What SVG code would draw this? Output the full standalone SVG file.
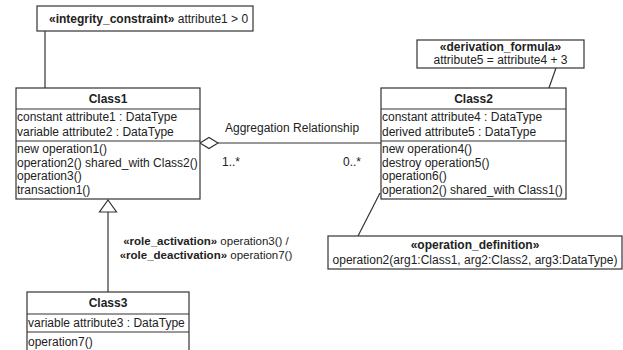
<svg xmlns="http://www.w3.org/2000/svg" width="623" height="350" viewBox="0 0 623 350">
<style>
  .box{fill:#fff;stroke:#333;stroke-width:1.2}
  .ln{fill:none;stroke:#333;stroke-width:1.2}
  text{font-family:"Liberation Sans",Arial,sans-serif;font-size:12px;fill:#222}
  .b{font-weight:bold}
  .c{text-anchor:middle}
  .r{font-size:11.5px}
</style>
<rect width="623" height="350" fill="#fff"/>
<g id="connectors">
  <line class="ln" x1="45" y1="31" x2="45" y2="88"/>
  <line class="ln" x1="218" y1="143" x2="381" y2="143"/>
  <polygon class="box" points="200,143 209,137.5 218,143 209,148.5"/>
  <line class="ln" x1="108" y1="212" x2="108" y2="292"/>
  <polygon class="box" points="108,200 116.5,212 99.5,212"/>
  <line class="ln" x1="556" y1="68" x2="532" y2="136"/>
  <line class="ln" x1="380" y1="193" x2="358" y2="236"/>
  <text x="225" y="132">Aggregation Relationship</text>
  <text x="222" y="166" font-size="11">1..*</text>
  <text x="343" y="166" font-size="11">0..*</text>
  <text class="c r" x="206" y="245"><tspan class="b">«role_activation»</tspan> operation3() /</text>
  <text class="c r" x="206" y="258.5"><tspan class="b">«role_deactivation»</tspan> operation7()</text>
</g>
<g id="integrity_constraint">
  <rect class="box" x="37" y="6" width="216" height="25"/>
  <text x="49" y="23"><tspan class="b">«integrity_constraint»</tspan> attribute1 &gt; 0</text>
</g>
<g id="Class1">
  <rect class="box" x="16" y="88" width="184" height="111"/>
  <line class="ln" x1="16" y1="109" x2="200" y2="109"/>
  <line class="ln" x1="16" y1="141" x2="200" y2="141"/>
  <text class="b c" x="108" y="103">Class1</text>
  <text x="17" y="121">constant attribute1 : DataType</text>
  <text x="17" y="136">variable attribute2 : DataType</text>
  <text x="17" y="153">new operation1()</text>
  <text x="17" y="167">operation2() shared_with Class2()</text>
  <text x="17" y="180">operation3()</text>
  <text x="17" y="194">transaction1()</text>
</g>
<g id="Class2">
  <rect class="box" x="381" y="88" width="185" height="111"/>
  <line class="ln" x1="381" y1="109" x2="566" y2="109"/>
  <line class="ln" x1="381" y1="141" x2="566" y2="141"/>
  <text class="b c" x="473.5" y="103">Class2</text>
  <text x="382" y="121">constant attribute4 : DataType</text>
  <text x="382" y="136">derived attribute5 : DataType</text>
  <text x="382" y="153">new operation4()</text>
  <text x="382" y="167">destroy operation5()</text>
  <text x="382" y="180">operation6()</text>
  <text x="382" y="194">operation2() shared_with Class1()</text>
</g>
<g id="derivation_formula">
  <rect class="box" x="417" y="40" width="167" height="28"/>
  <text class="b c" x="500.5" y="51">«derivation_formula»</text>
  <text class="c" x="500.5" y="64">attribute5 = attribute4 + 3</text>
</g>
<g id="operation_definition">
  <rect class="box" x="328" y="236" width="294" height="33"/>
  <text class="b c" x="475" y="249">«operation_definition»</text>
  <text class="c" x="475" y="264">operation2(arg1:Class1, arg2:Class2, arg3:DataType)</text>
</g>
<g id="Class3">
  <rect class="box" x="27" y="292" width="162" height="70"/>
  <line class="ln" x1="27" y1="314" x2="189" y2="314"/>
  <line class="ln" x1="27" y1="332" x2="189" y2="332"/>
  <text class="b c" x="108" y="307">Class3</text>
  <text x="28" y="327">variable attribute3 : DataType</text>
  <text x="28" y="346">operation7()</text>
</g>
</svg>
